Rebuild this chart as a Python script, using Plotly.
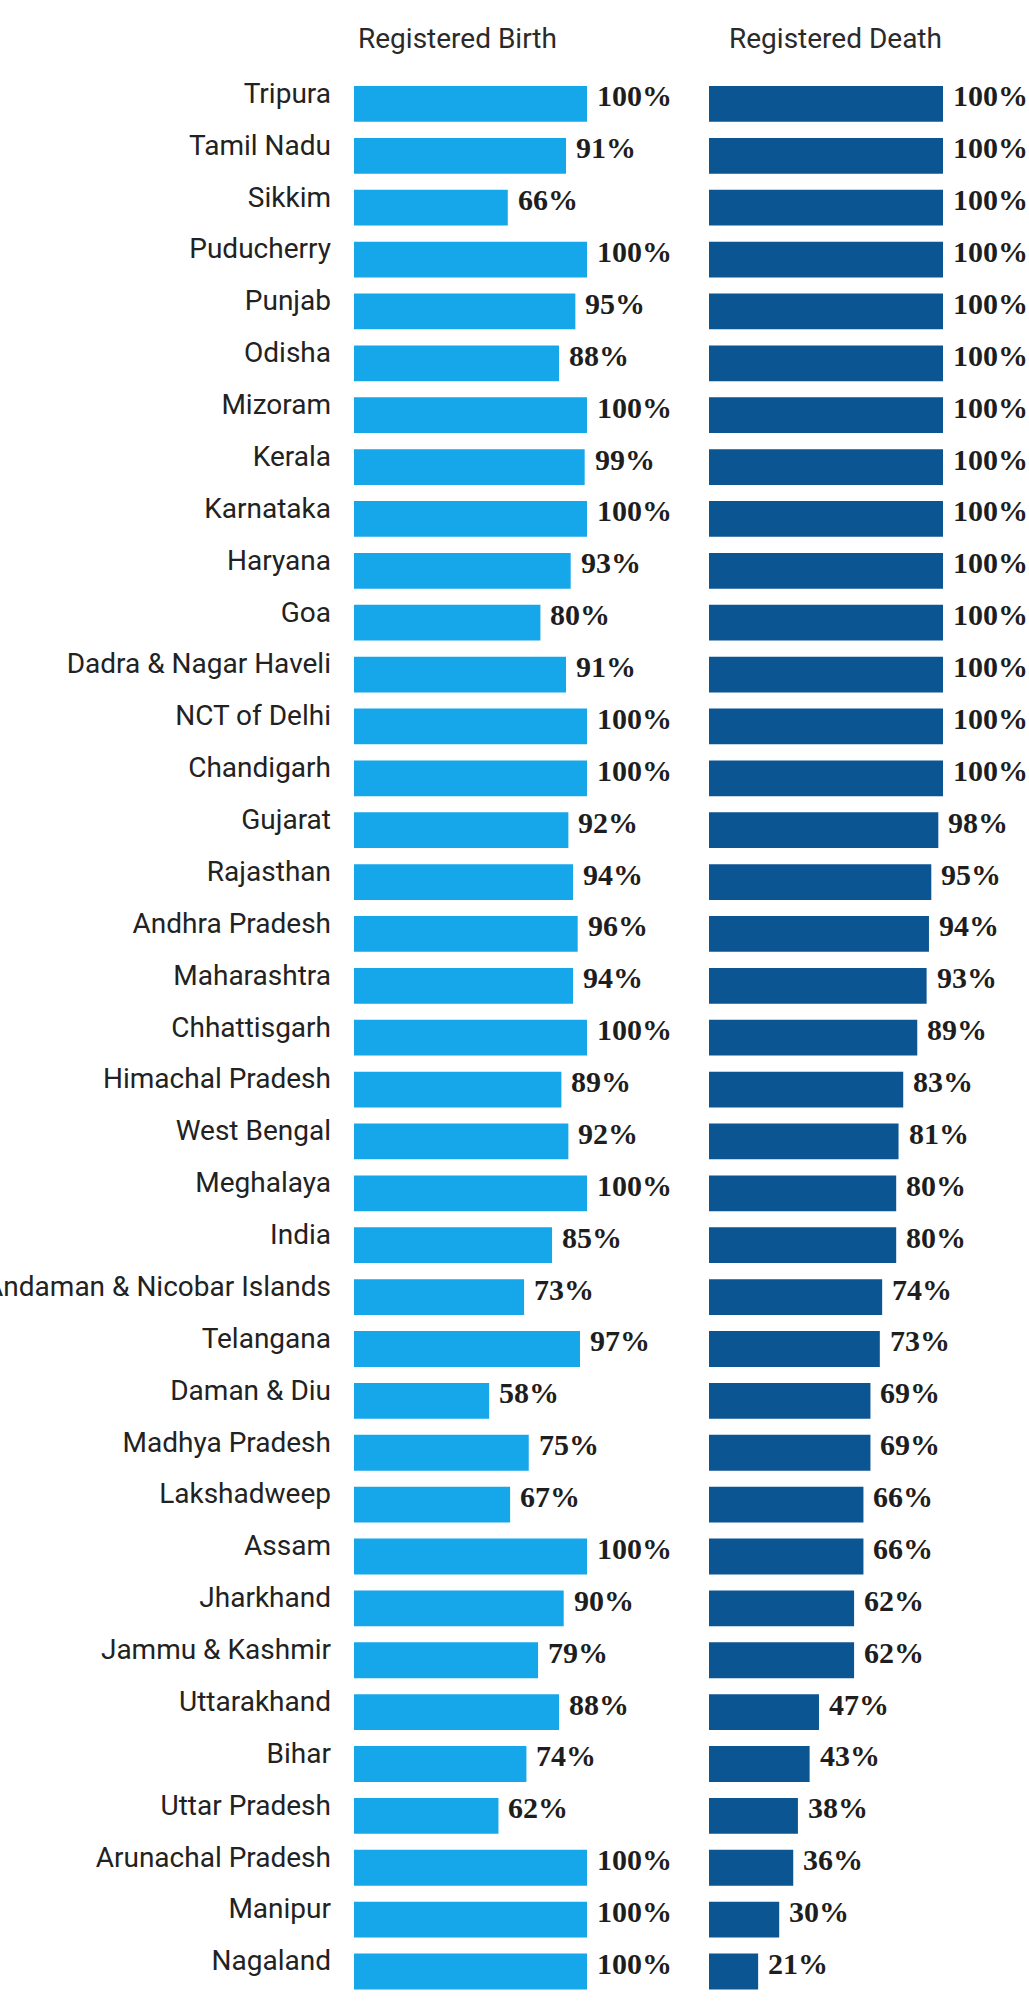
import plotly.graph_objects as go

states = ["Tripura", "Tamil Nadu", "Sikkim", "Puducherry", "Punjab", "Odisha", "Mizoram",
          "Kerala", "Karnataka", "Haryana", "Goa", "Dadra & Nagar Haveli", "NCT of Delhi",
          "Chandigarh", "Gujarat", "Rajasthan", "Andhra Pradesh", "Maharashtra", "Chhattisgarh",
          "Himachal Pradesh", "West Bengal", "Meghalaya", "India", "Andaman & Nicobar Islands",
          "Telangana", "Daman & Diu", "Madhya Pradesh", "Lakshadweep", "Assam", "Jharkhand",
          "Jammu & Kashmir", "Uttarakhand", "Bihar", "Uttar Pradesh", "Arunachal Pradesh",
          "Manipur", "Nagaland"]
birth = [100, 91, 66, 100, 95, 88, 100, 99, 100, 93, 80, 91, 100, 100, 92, 94, 96, 94, 100,
         89, 92, 100, 85, 73, 97, 58, 75, 67, 100, 90, 79, 88, 74, 62, 100, 100, 100]
death = [100, 100, 100, 100, 100, 100, 100, 100, 100, 100, 100, 100, 100, 100, 98, 95, 94, 93,
         89, 83, 81, 80, 80, 74, 73, 69, 69, 66, 66, 62, 62, 47, 43, 38, 36, 30, 21]
headers = ["Registered Birth", "Registered Death"]

W, H = 1029, 2004
BIRTH_COLOR = "#16a6ea"
DEATH_COLOR = "#0b5593"
LABEL_FONT = dict(family="Roboto, Liberation Sans, Arial", size=28, color="#222222")
VALUE_FONT = dict(family="Liberation Serif, DejaVu Serif, serif", size=30, color="#1e1e1e", weight="bold")
HEAD_FONT = dict(family="Roboto, Liberation Sans, Arial", size=28, color="#2a2a2a")

fig = go.Figure()
fig.add_trace(go.Bar(x=birth, y=states, orientation="h", marker=dict(color=BIRTH_COLOR, line_width=0),
                     xaxis="x", yaxis="y", hoverinfo="skip"))
fig.add_trace(go.Bar(x=death, y=states, orientation="h", marker=dict(color=DEATH_COLOR, line_width=0),
                     xaxis="x2", yaxis="y2", hoverinfo="skip"))

annotations = []
for s, b, d in zip(states, birth, death):
    annotations.append(dict(x=b, y=s, xref="x", yref="y", text=f"{b}%", showarrow=False,
                            xanchor="left", yanchor="middle", xshift=8, yshift=8, font=VALUE_FONT))
    annotations.append(dict(x=d, y=s, xref="x2", yref="y2", text=f"{d}%", showarrow=False,
                            xanchor="left", yanchor="middle", xshift=8, yshift=8, font=VALUE_FONT))

top_px, bot_px = 78, 1998
plot_h = bot_px - top_px
def py(p):
    return (bot_px - p) / plot_h

annotations.append(dict(x=457.5 / W, y=py(38), xref="paper", yref="paper", text=headers[0],
                        showarrow=False, xanchor="center", yanchor="middle", font=HEAD_FONT))
annotations.append(dict(x=835 / W, y=py(38), xref="paper", yref="paper", text=headers[1],
                        showarrow=False, xanchor="center", yanchor="middle", font=HEAD_FONT))

fig.update_layout(
    width=W, height=H,
    margin=dict(l=0, r=0, t=top_px, b=H - bot_px, pad=0, autoexpand=False),
    paper_bgcolor="white", plot_bgcolor="white",
    showlegend=False, bargap=0.31, hovermode=False,
    xaxis=dict(domain=[354 / W, 587 / W], range=[0, 100], visible=False, fixedrange=True,
               automargin=False),
    xaxis2=dict(domain=[709 / W, 943 / W], range=[0, 100], visible=False, fixedrange=True,
                automargin=False),
    yaxis=dict(anchor="x", autorange="reversed", showgrid=False, zeroline=False, showline=False,
               ticks="", tickfont=LABEL_FONT, ticklabelstandoff=22, ticklabelshift=11,
               automargin=False, fixedrange=True),
    yaxis2=dict(anchor="x2", matches="y", showticklabels=False, showgrid=False, zeroline=False,
                showline=False, automargin=False, fixedrange=True),
    annotations=annotations,
)
fig.update_traces(cliponaxis=False)

fig.write_html("out.html", config={"displayModeBar": False},
               post_script="document.body.style.margin='0';document.body.style.overflow='hidden';")
